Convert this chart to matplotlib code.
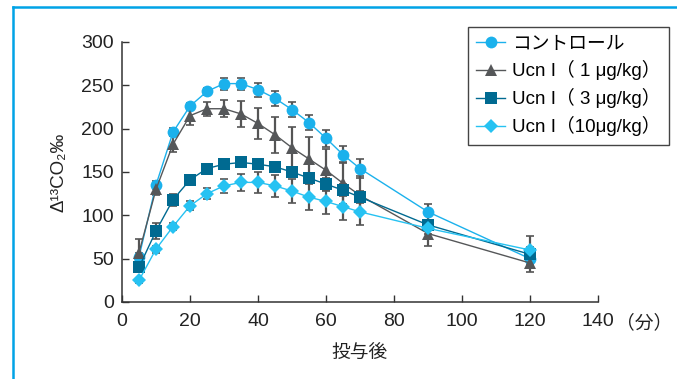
import matplotlib
matplotlib.use("Agg")
import matplotlib.pyplot as plt
from matplotlib.lines import Line2D

plt.rcParams['font.family'] = ['Liberation Sans', 'Noto Sans CJK JP', 'DejaVu Sans']

time = [5, 10, 15, 20, 25, 30, 35, 40, 45, 50, 55, 60, 65, 70, 90, 120]

control = [52, 135, 196, 226, 243, 252, 252, 245, 235, 222, 207, 189, 170, 154, 104, 50]
control_err = [5, 5, 5, 4, 4, 7, 7, 8, 9, 9, 9, 10, 10, 11, 9, 8]

ucn1 = [57, 130, 182, 215, 223, 223, 217, 206, 193, 178, 165, 152, 137, 123, 79, 45]
ucn1_err = [16, 6, 9, 11, 8, 10, 15, 18, 21, 24, 25, 24, 24, 22, 14, 10]

ucn3 = [40, 82, 118, 141, 154, 159, 161, 159, 156, 150, 143, 136, 129, 121, 89, 55]
ucn3_err = [5, 9, 7, 6, 5, 5, 5, 5, 5, 6, 6, 7, 7, 7, 6, 8]

ucn10 = [25, 61, 87, 111, 125, 134, 138, 138, 134, 128, 121, 116, 110, 104, 85, 60]
ucn10_err = [3, 4, 4, 5, 6, 8, 10, 12, 13, 14, 15, 15, 15, 15, 6, 16]

labels = ["コントロール", "Ucn I（ 1 μg/kg）", "Ucn I（ 3 μg/kg）", "Ucn I（10μg/kg）"]
colors = ["#1bb1ec", "#555759", "#006a91", "#26c2f2"]
markers = ["o", "^", "s", "D"]
msizes = [8.5, 8, 8, 7.5]

xticks = [0, 20, 40, 60, 80, 100, 120, 140]
yticks = [0, 50, 100, 150, 200, 250, 300]

fig = plt.figure(figsize=(6.77, 3.79), dpi=100)
ax = fig.add_axes([122/677, 1-302/379, (598-122)/677, (302-42)/379])

series = [(control, control_err), (ucn1, ucn1_err), (ucn3, ucn3_err), (ucn10, ucn10_err)]
handles = []
for (vals, errs), lab, c, m, ms in zip(series, labels, colors, markers, msizes):
    ax.errorbar(time, vals, yerr=errs, fmt='none', ecolor='#555555', elinewidth=1.6,
                capsize=3.2, capthick=1.2, zorder=2)
    h, = ax.plot(time, vals, color=c, marker=m, markersize=ms, linewidth=1.0,
                 markeredgewidth=0, label=lab, zorder=3)
    handles.append(h)

ax.set_xlim(0, 140)
ax.set_ylim(0, 300)
ax.set_xticks(xticks)
ax.set_yticks(yticks)
ax.set_xticklabels([str(t) for t in xticks])
ax.tick_params(direction='in', length=5, width=1, colors='#333333', labelsize=14,
               labelcolor='#222222')
ax.tick_params(axis='x', pad=8)
ax.tick_params(axis='y', pad=6)
for s in ['top', 'right']:
    ax.spines[s].set_visible(False)
for s in ['left', 'bottom']:
    ax.spines[s].set_color('#333333')
    ax.spines[s].set_linewidth(1.1)

ax.set_xlabel("投与後", fontsize=13.5, color='#222222', labelpad=9,
              family=['Noto Sans CJK JP', 'DejaVu Sans'])
ax.set_ylabel("Δ¹³CO₂‰", fontsize=13.5, color='#222222', labelpad=10,
              family=['Liberation Sans', 'DejaVu Sans'])

leg = fig.legend(handles=handles, labels=labels, loc='upper right',
                 bbox_to_anchor=(669/677, 1-27/379), bbox_transform=fig.transFigure,
                 borderaxespad=0, fancybox=False, framealpha=1, edgecolor='#444444',
                 handlelength=1.5, handletextpad=0.4, labelspacing=0.42,
                 borderpad=0.45,
                 prop={'family': ['Liberation Sans', 'Noto Sans CJK JP', 'DejaVu Sans'], 'size': 13.5})
leg.get_frame().set_linewidth(1.0)

# "（分）" after the 140 tick label
fig.canvas.draw()
renderer = fig.canvas.get_renderer()
lab140 = [t for t in ax.get_xticklabels() if t.get_text() == "140"][0]
bb = lab140.get_window_extent(renderer)
fig.text((bb.x1 + 2) / fig.bbox.width, ((bb.y0 + bb.y1) / 2 - 1) / fig.bbox.height, "（分）",
         ha='left', va='center', fontsize=13.5, color='#222222',
         family=['Noto Sans CJK JP', 'DejaVu Sans'])

frame_c = "#00a3e6"
fig.add_artist(Line2D([13/677, 13/677], [0, 1-7/379], transform=fig.transFigure,
                      color=frame_c, linewidth=1.8))
fig.add_artist(Line2D([13/677, 1], [1-7/379, 1-7/379], transform=fig.transFigure,
                      color=frame_c, linewidth=1.8))

fig.savefig("out.png", dpi=100)
